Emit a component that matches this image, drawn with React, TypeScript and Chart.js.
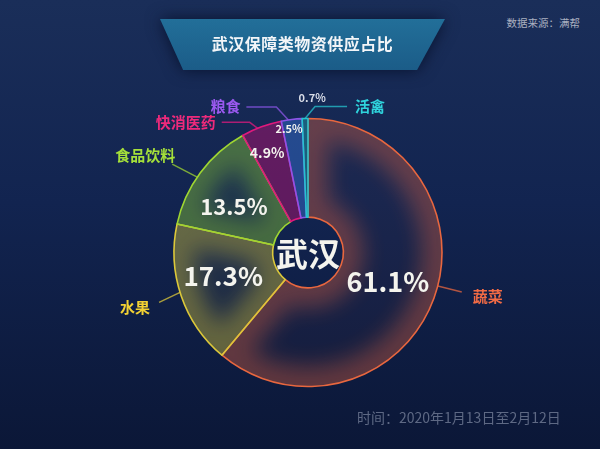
import { useEffect, useRef } from "react";
import Chart from "chart.js/auto";

const categories = ["蔬菜", "水果", "食品饮料", "快消医药", "粮食", "活禽"];
const shares = [61.1, 17.3, 13.5, 4.9, 2.5, 0.7];
const centerLabel = "武汉";

const edgeColors = ["#e8673f", "#dcc83a", "#9fd632", "#e0197d", "#8d55e8", "#25c3cf"];
const textColors = ["#f26b45", "#f2d133", "#a5e03a", "#ee2a7b", "#9b59f0", "#2fd3dc"];
const glowColors = ["#e8673f", "#d8c43a", "#8fcc32", "#c8187a", "#3a70d0", "#22a8b8"];
const glowAlpha = [0.36, 0.38, 0.38, 0.3, 0.3, 0.3];
const fillColors = [
  "rgba(232,103,63,0.04)",
  "rgba(220,200,58,0.08)",
  "rgba(159,214,50,0.08)",
  "rgba(140,20,100,0.35)",
  "rgba(45,90,170,0.45)",
  "rgba(30,120,140,0.45)",
];

// label layout: percent labels (radius px, angle shift deg, font px)
const pctRadius = [85, 88, 87, 108, 125, 155];
const pctShift = [0, 3.5, -4.9, -1.9, -1.7, 2.8];
const pctSize = [27, 26, 22, 14, 11, 11];
// leader lines: anchor shift on the rim, then relative segment points
const anchorShift = [-5.5, 1.6, -2.3, -1.7, -1.4, 0];
const leaderPts = [
  [[24, 6]],
  [[-21, 10]],
  [[-25, -13]],
  [[-8, -6], [-36, -6]],
  [[-12, -13], [-42, -13]],
  [[10, -12], [42, -12]],
];
const nameOffset = [[11, 4], [-9, 5], [3, -9], [-6, 0], [-6, -1], [8, 0]];
const nameAlign: CanvasTextAlign[] = ["left", "right", "right", "right", "right", "left"];

const FONT = '"Noto Sans CJK SC", "Noto Sans", sans-serif';

function hexA(hex: string, a: number) {
  const n = parseInt(hex.slice(1), 16);
  return `rgba(${(n >> 16) & 255},${(n >> 8) & 255},${n & 255},${a})`;
}

const glowPlugin = {
  id: "innerGlow",
  beforeDatasetsDraw(chart: any) {
    const ctx = chart.ctx;
    const meta = chart.getDatasetMeta(0);
    meta.data.forEach((arc: any, i: number) => {
      const { x, y, startAngle, endAngle, innerRadius, outerRadius } = arc;
      ctx.save();
      ctx.beginPath();
      ctx.arc(x, y, outerRadius, startAngle, endAngle);
      ctx.arc(x, y, innerRadius, endAngle, startAngle, true);
      ctx.closePath();
      ctx.clip();
      ctx.filter = "blur(11px)";
      ctx.strokeStyle = hexA(glowColors[i], glowAlpha[i]);
      ctx.lineWidth = 40;
      ctx.lineJoin = "round";
      ctx.stroke();
      ctx.restore();
    });
  },
};

const labelPlugin = {
  id: "pieLabels",
  afterDatasetsDraw(chart: any) {
    const ctx = chart.ctx;
    const meta = chart.getDatasetMeta(0);
    meta.data.forEach((arc: any, i: number) => {
      const { x, y, startAngle, endAngle, outerRadius } = arc;
      const mid = (startAngle + endAngle) / 2;

      // percent text
      const pa = mid + (pctShift[i] * Math.PI) / 180;
      const px = x + pctRadius[i] * Math.cos(pa);
      const py = y + pctRadius[i] * Math.sin(pa);
      ctx.save();
      ctx.font = `bold ${pctSize[i]}px ${FONT}`;
      ctx.fillStyle = i === 5 ? "#d9dde8" : "#f4f4ee";
      ctx.textAlign = "center";
      ctx.textBaseline = "middle";
      ctx.fillText(`${shares[i]}%`, px, py);
      ctx.restore();

      // leader line
      const aa = mid + (anchorShift[i] * Math.PI) / 180;
      const ax = x + outerRadius * Math.cos(aa);
      const ay = y + outerRadius * Math.sin(aa);
      ctx.save();
      ctx.strokeStyle = hexA(edgeColors[i], 0.75);
      ctx.lineWidth = 1.5;
      ctx.beginPath();
      ctx.moveTo(ax, ay);
      let ex = ax;
      let ey = ay;
      leaderPts[i].forEach(([dx, dy]) => {
        ex = ax + dx;
        ey = ay + dy;
        ctx.lineTo(ex, ey);
      });
      ctx.stroke();

      ctx.font = `bold 15px ${FONT}`;
      ctx.fillStyle = textColors[i];
      ctx.textAlign = nameAlign[i];
      ctx.textBaseline = "middle";
      ctx.fillText(categories[i], ex + nameOffset[i][0], ey + nameOffset[i][1]);
      ctx.restore();
    });

    const first = meta.data[0];
    if (first) {
      ctx.save();
      ctx.font = `bold 32px ${FONT}`;
      ctx.fillStyle = "#f4f4ee";
      ctx.textAlign = "center";
      ctx.textBaseline = "middle";
      ctx.fillText(centerLabel, first.x, first.y + 1);
      ctx.restore();
    }
  },
};

function DoughnutChart() {
  const canvasRef = useRef<HTMLCanvasElement>(null);
  const chartRef = useRef<Chart | null>(null);

  useEffect(() => {
    if (!canvasRef.current) return;
    const ctx = canvasRef.current.getContext("2d");
    if (!ctx) return;

    if (chartRef.current) {
      chartRef.current.destroy();
    }

    chartRef.current = new Chart(ctx, {
      type: "doughnut",
      data: {
        labels: categories,
        datasets: [
          {
            data: shares,
            backgroundColor: fillColors,
            borderColor: edgeColors,
            borderWidth: 1.6,
            borderJoinStyle: "round",
          },
        ],
      },
      options: {
        responsive: true,
        maintainAspectRatio: false,
        animation: false,
        radius: 134,
        cutout: 40,
        layout: { padding: { left: 108, right: 92, top: 100, bottom: 44 } },
        plugins: {
          legend: { display: false },
          tooltip: { enabled: false },
        },
      } as any,
      plugins: [glowPlugin, labelPlugin],
    });

    return () => {
      if (chartRef.current) {
        chartRef.current.destroy();
        chartRef.current = null;
      }
    };
  }, []);

  return (
    <div style={{ position: "absolute", left: 0, top: 0, width: 600, height: 449 }}>
      <canvas ref={canvasRef}></canvas>
    </div>
  );
}

export default function App() {
  return (
    <div
      style={{
        position: "fixed",
        left: 0,
        top: 0,
        width: 600,
        height: 449,
        overflow: "hidden",
        fontFamily: FONT,
        background: "linear-gradient(180deg, #1a2e59 0%, #122450 45%, #0b1737 100%)",
      }}
    >
      <div
        style={{
          position: "absolute",
          left: 0,
          top: 0,
          width: 600,
          height: 100,
          filter: "drop-shadow(0 0 8px rgba(6,16,42,0.95))",
        }}
      >
        <div
          style={{
            position: "absolute",
            left: 160,
            top: 19,
            width: 285,
            height: 51,
            clipPath: "polygon(0 0, 100% 0, 90.2% 100%, 8.1% 100%)",
            background: "linear-gradient(180deg, #226f99 0%, #1b5c88 100%)",
            color: "#f2f5f8",
            fontSize: 16,
            fontWeight: "bold",
            lineHeight: "48px",
            textAlign: "center",
            letterSpacing: 0.5,
          }}
        >
          武汉保障类物资供应占比
        </div>
      </div>
      <div
        style={{
          position: "absolute",
          right: 20,
          top: 15,
          fontSize: 10.5,
          color: "#aab0c0",
          lineHeight: "16px",
        }}
      >
        数据来源：满帮
      </div>
      <DoughnutChart />
      <div
        style={{
          position: "absolute",
          left: 357,
          top: 408,
          fontSize: 14,
          color: "#5e6984",
          lineHeight: "18px",
          whiteSpace: "nowrap",
        }}
      >
        时间：2020年1月13日至2月12日
      </div>
    </div>
  );
}
